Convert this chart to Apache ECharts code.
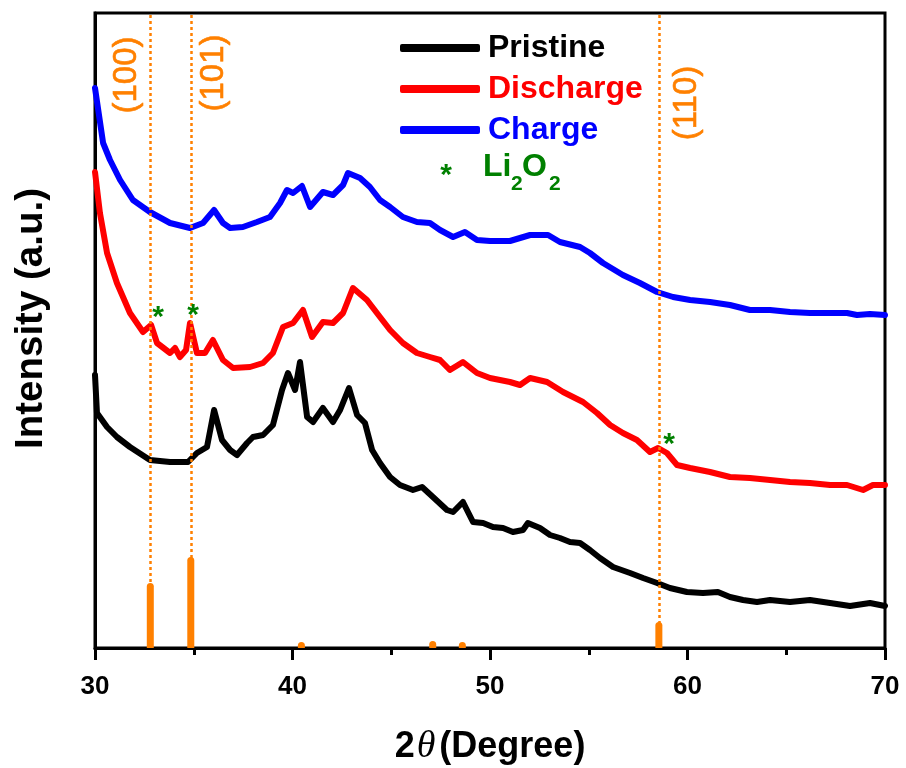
<!DOCTYPE html>
<html>
<head>
<meta charset="utf-8">
<script src="https://cdn.jsdelivr.net/npm/echarts@6/dist/echarts.min.js"></script>
<style>
  html, body { margin: 0; padding: 0; background: #fff; }
  #chart { width: 906px; height: 768px; }
</style>
</head>
<body>
<div id="chart"></div>
<script>
// XRD patterns, [2theta (deg), intensity (a.u., offset for stacking)]
const pristine = [
  [30.00,273],[30.10,235],[30.61,221],[31.11,211],[31.77,201],[32.78,188],[33.80,186],[34.71,186],
  [35.16,195],[35.67,201],[36.03,238],[36.43,208],[36.84,198],[37.19,193],[37.70,205],[38.00,211],
  [38.51,213],[39.01,223],[39.47,258],[39.77,275],[40.13,258],[40.38,286],[40.74,231],[41.04,226],
  [41.54,240],[42.05,226],[42.41,238],[42.86,260],[43.27,233],[43.67,225],[44.03,198],[44.43,185],
  [44.94,171],[45.44,163],[46.10,158],[46.56,161],[47.11,151],[47.82,138],[48.13,136],[48.63,146],
  [49.14,126],[49.65,125],[50.15,121],[50.66,120],[51.16,116],[51.67,118],[51.92,125],[52.53,120],
  [53.04,113],[53.54,110],[54.05,106],[54.56,105],[55.06,98],[55.57,90],[56.23,81],[57.09,75],
  [57.75,70],[58.46,65],[59.11,60],[59.97,56],[60.78,55],[61.54,56],[62.15,51],[62.81,48],
  [63.52,46],[64.18,48],[65.19,46],[66.20,48],[67.22,45],[68.23,42],[69.24,45],[70.00,42]
];
const discharge = [
  [30.00,476],[30.25,435],[30.61,395],[31.11,365],[31.77,335],[32.43,316],[32.84,323],[33.14,305],
  [33.80,295],[34.05,300],[34.30,291],[34.61,298],[34.81,325],[35.16,295],[35.57,295],[35.97,308],
  [36.48,288],[36.99,280],[37.85,281],[38.51,285],[39.01,295],[39.52,321],[40.03,325],[40.53,338],
  [40.99,311],[41.54,326],[42.05,325],[42.56,335],[43.06,360],[43.77,348],[44.43,331],[44.94,318],
  [45.59,305],[46.30,295],[46.96,291],[47.47,288],[47.97,278],[48.63,286],[49.34,275],[50.00,270],
  [51.01,266],[51.52,263],[52.03,270],[52.89,266],[53.70,256],[54.71,246],[55.42,235],[56.08,223],
  [56.73,215],[57.44,208],[58.10,196],[58.51,200],[58.96,195],[59.47,183],[60.13,180],[61.14,176],
  [62.15,171],[63.16,170],[64.18,168],[65.19,166],[66.20,165],[67.22,163],[68.08,163],[68.89,158],
  [69.39,163],[70.00,163]
];
const charge = [
  [30.00,560],[30.41,505],[30.76,488],[31.27,468],[31.92,448],[32.78,436],[33.80,425],[34.81,420],
  [35.47,425],[36.03,438],[36.48,425],[36.84,420],[37.49,421],[38.20,426],[38.86,431],[39.37,445],
  [39.72,458],[40.03,455],[40.48,462],[40.89,441],[41.54,456],[42.05,453],[42.56,463],[42.81,475],
  [43.42,470],[43.92,461],[44.43,448],[44.94,441],[45.59,431],[46.30,426],[46.96,425],[47.47,418],
  [48.13,411],[48.73,416],[49.34,408],[50.00,407],[51.01,407],[52.03,413],[52.94,413],[53.54,406],
  [54.56,401],[55.06,395],[55.72,385],[56.73,373],[57.59,365],[58.46,356],[59.27,351],[60.13,348],
  [61.14,346],[62.15,343],[63.16,338],[64.18,338],[65.19,336],[66.20,335],[67.22,335],[68.08,335],
  [68.58,333],[69.24,334],[70.00,333]
];

// Reference pattern (stick positions and relative heights)
const refPos = [32.80, 34.85, 40.45, 47.10, 48.60, 58.55];
const refInt = [65, 91, 6, 7, 6, 26];

// Indexed reflections marked with dotted guide lines
const hklNames = ['(100)', '(101)', '(110)'];
const hklPos = [32.80, 34.85, 58.55];

// Li2O2 peaks seen after discharge
const li2o2Pos = [32.84, 34.81, 58.51];

const xTicks = [30, 40, 50, 60, 70];

const ORANGE = '#FF8000';
const GREEN = '#008000';
const SANS = '"Liberation Sans", Arial, sans-serif';

const chart = echarts.init(document.getElementById('chart'), null, { renderer: 'canvas' });

function nearestY(series, x) {
  let best = series[0];
  for (const p of series) if (Math.abs(p[0] - x) < Math.abs(best[0] - x)) best = p;
  return best[1];
}

const starOffsets = [[7, -7], [3, -7], [11, -3]];

const option = {
  animation: false,
  backgroundColor: '#fff',
  grid: {
    left: 95, right: 21, top: 13, bottom: 120,
    outerBoundsMode: 'none', containLabel: false,
    show: true, borderColor: '#000', borderWidth: 3
  },
  xAxis: {
    type: 'value',
    min: xTicks[0], max: xTicks[xTicks.length - 1], interval: 10,
    name: '{n|2}{t|θ}{n|(Degree)}',
    nameLocation: 'middle',
    nameGap: 80,
    nameTextStyle: {
      rich: {
        n: { fontFamily: SANS, fontWeight: 'bold', fontSize: 36, color: '#000' },
        t: { fontFamily: '"Liberation Serif", serif', fontStyle: 'italic', fontSize: 38, color: '#000', padding: [0, 4, 0, 2] }
      }
    },
    axisLine: { show: true, onZero: false, lineStyle: { color: '#000', width: 3 } },
    axisTick: { show: true, inside: false, length: 12, lineStyle: { color: '#000', width: 3 } },
    minorTick: { show: true, splitNumber: 2, length: 7, lineStyle: { color: '#000', width: 3 } },
    axisLabel: {
      margin: 26, color: '#000', fontFamily: SANS, fontWeight: 'bold', fontSize: 26,
      formatter: v => String(v)
    },
    splitLine: { show: false }
  },
  yAxis: {
    type: 'value',
    min: 0, max: 635,
    name: 'Intensity (a.u.)',
    nameLocation: 'middle',
    nameGap: 44,
    nameTextStyle: {
      fontFamily: SANS, fontWeight: 'bold', fontSize: 38.5, color: '#000',
      padding: [0, 0, 0, 24]
    },
    axisLine: { show: true, lineStyle: { color: '#000', width: 3 } },
    axisTick: { show: false },
    axisLabel: { show: false },
    splitLine: { show: false }
  },
  legend: {
    orient: 'vertical',
    left: 395, top: 27,
    itemWidth: 80, itemHeight: 8, itemGap: 9,
    icon: 'roundRect',
    textStyle: { fontFamily: SANS, fontWeight: 'bold', fontSize: 32, lineHeight: 32, padding: [0, 0, 0, 3] },
    data: [
      { name: 'Pristine', textStyle: { color: '#000' } },
      { name: 'Discharge', textStyle: { color: '#FF0000' } },
      { name: 'Charge', textStyle: { color: '#0000FF' } }
    ],
    selectedMode: false
  },
  series: [
    {
      name: 'Pristine', type: 'line', data: pristine, showSymbol: false,
      lineStyle: { color: '#000', width: 6, join: 'round', cap: 'round' },
      itemStyle: { color: '#000' }, z: 3
    },
    {
      name: 'Discharge', type: 'line', data: discharge, showSymbol: false,
      lineStyle: { color: '#FF0000', width: 6, join: 'round', cap: 'round' },
      itemStyle: { color: '#FF0000' }, z: 3,
      markPoint: {
        symbol: 'circle', symbolSize: 0, silent: true,
        label: {
          show: true, formatter: '*', color: GREEN,
          fontFamily: SANS, fontWeight: 'bold', fontSize: 30
        },
        data: li2o2Pos.map((x, i) => ({
          coord: [x, nearestY(discharge, x)],
          label: { offset: starOffsets[i] }
        }))
      }
    },
    {
      name: 'Charge', type: 'line', data: charge, showSymbol: false,
      lineStyle: { color: '#0000FF', width: 6, join: 'round', cap: 'round' },
      itemStyle: { color: '#0000FF' }, z: 3
    },
    {
      name: 'Reference', type: 'bar',
      data: refPos.map((x, i) => [x, refInt[i]]),
      barWidth: 7,
      itemStyle: { color: ORANGE, borderRadius: [3.5, 3.5, 0, 0] },
      z: 4,
      markLine: {
        silent: true, symbol: 'none',
        label: { show: false },
        lineStyle: { color: ORANGE, width: 2.5, type: [3, 3] },
        data: hklPos.map(x => ({ xAxis: x }))
      }
    }
  ]
};

chart.setOption(option);

// hkl captions beside the dotted guide lines, and the Li2O2 legend entry
const hklOffsets = [[-23, 62], [23, 60], [28, 90]];
const gridTop = 13;
const graphics = hklNames.map((name, i) => {
  const p = chart.convertToPixel({ xAxisIndex: 0, yAxisIndex: 0 }, [hklPos[i], 0]);
  return {
    type: 'text',
    x: p[0] + hklOffsets[i][0],
    y: gridTop + hklOffsets[i][1],
    rotation: Math.PI / 2,
    style: {
      text: name, fill: ORANGE, font: '33px ' + SANS,
      stroke: ORANGE, lineWidth: 0.6,
      align: 'center', verticalAlign: 'middle'
    },
    z: 10
  };
});

const liFont = 'bold 32px ' + SANS;
const subFont = 'bold 21px ' + SANS;
graphics.push(
  { type: 'text', x: 446, y: 176, style: { text: '*', fill: GREEN, font: 'bold 30px ' + SANS, align: 'center', verticalAlign: 'middle' }, z: 10 },
  { type: 'text', x: 483, y: 167, style: { text: 'Li', fill: GREEN, font: liFont, align: 'left', verticalAlign: 'middle' }, z: 10 },
  { type: 'text', x: 511, y: 184, style: { text: '2', fill: GREEN, font: subFont, align: 'left', verticalAlign: 'middle' }, z: 10 },
  { type: 'text', x: 522, y: 167, style: { text: 'O', fill: GREEN, font: liFont, align: 'left', verticalAlign: 'middle' }, z: 10 },
  { type: 'text', x: 549, y: 184, style: { text: '2', fill: GREEN, font: subFont, align: 'left', verticalAlign: 'middle' }, z: 10 }
);

chart.setOption({ graphic: graphics });
</script>
</body>
</html>
